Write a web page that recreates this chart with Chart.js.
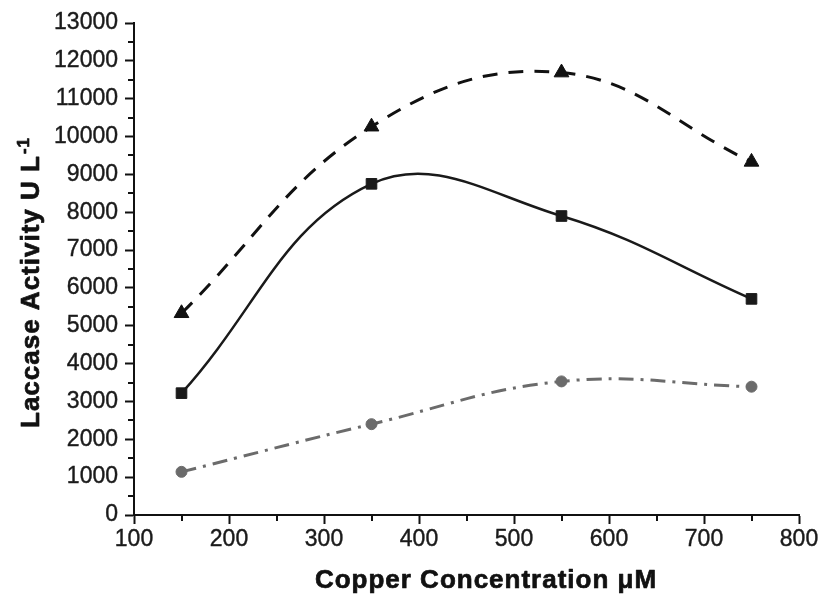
<!DOCTYPE html>
<html>
<head>
<meta charset="utf-8">
<script src="https://cdn.jsdelivr.net/npm/chart.js@4.4.1/dist/chart.umd.min.js"></script>
<style>
  html, body { margin: 0; padding: 0; background: #ffffff; }
  #wrap { width: 822px; height: 596px; position: relative; }
</style>
</head>
<body>
<div id="wrap"><canvas id="c" width="822" height="596"></canvas></div>
<script>
// ---- data ----
const copperConcentration = [150, 350, 550, 750];          // µM
const triangleSeries = [5330, 10260, 11690, 9330];         // dashed black, triangles
const squareSeries   = [3220, 8750, 7900, 5710];           // solid black, squares
const circleSeries   = [1140, 2400, 3530, 3390];           // grey dash-dot, circles

const xTickValues = [100, 200, 300, 400, 500, 600, 700, 800];
const xMinorTicks = [150, 250, 350, 450, 550, 650, 750];
const yTickValues = [0, 1000, 2000, 3000, 4000, 5000, 6000, 7000, 8000, 9000, 10000, 11000, 12000, 13000];
const yMinorTicks = [500, 1500, 2500, 3500, 4500, 5500, 6500, 7500, 8500, 9500, 10500, 11500, 12500];

const xTitle = "Copper Concentration \u03BCM";
const yTitleMain = "Laccase Activity U L";
const yTitleSup = "-1";

function pts(ys) { return copperConcentration.map((x, i) => ({ x: x, y: ys[i] })); }

const TITLE_FONT = 'bold 26px "Liberation Sans", Arial, sans-serif';
const SUP_FONT = 'bold 17px "Liberation Sans", Arial, sans-serif';

const titlesAndMinor = {
  id: 'titlesAndMinor',
  afterDraw(chart) {
    const ctx = chart.ctx;
    const xs = chart.scales.x, ys = chart.scales.y;
    const area = chart.chartArea;
    ctx.save();
    // minor ticks
    ctx.strokeStyle = '#111';
    ctx.lineWidth = 2;
    ctx.beginPath();
    xMinorTicks.forEach(v => {
      const px = Math.round(xs.getPixelForValue(v));
      ctx.moveTo(px, area.bottom);
      ctx.lineTo(px, area.bottom + 6);
    });
    yMinorTicks.forEach(v => {
      const py = Math.round(ys.getPixelForValue(v));
      ctx.moveTo(area.left, py);
      ctx.lineTo(area.left - 6, py);
    });
    ctx.stroke();

    // axis titles
    ctx.fillStyle = '#111';
    ctx.strokeStyle = '#111';
    ctx.lineWidth = 0.7;
    ctx.lineJoin = 'round';
    ctx.font = TITLE_FONT;
    ctx.letterSpacing = '1px';
    ctx.textAlign = 'center';
    ctx.textBaseline = 'alphabetic';
    ctx.fillText(xTitle, 486, 588);
    ctx.strokeText(xTitle, 486, 588);

    ctx.translate(39, 283);
    ctx.rotate(-Math.PI / 2);
    ctx.textAlign = 'left';
    const wMain = ctx.measureText(yTitleMain).width;
    ctx.font = SUP_FONT;
    ctx.letterSpacing = '1px';
    const wSup = ctx.measureText(yTitleSup).width;
    const start = -(wMain + wSup) / 2;
    ctx.font = TITLE_FONT;
    ctx.letterSpacing = '1px';
    ctx.fillText(yTitleMain, start, 0);
    ctx.strokeText(yTitleMain, start, 0);
    ctx.font = SUP_FONT;
    ctx.fillText(yTitleSup, start + wMain + 1, -10);
    ctx.strokeText(yTitleSup, start + wMain + 1, -10);
    ctx.restore();
  }
};

const tickFont = { family: '"Liberation Sans", Arial, sans-serif', size: 23 };

new Chart(document.getElementById('c'), {
  type: 'line',
  data: {
    datasets: [
      {
        data: pts(triangleSeries),
        borderColor: '#111',
        backgroundColor: '#111',
        borderWidth: 3,
        borderDash: [15, 11],
        pointStyle: 'triangle',
        pointRadius: 8.5,
        pointBorderWidth: 1,
        tension: 0.4
      },
      {
        data: pts(squareSeries),
        borderColor: '#1a1a1a',
        backgroundColor: '#1a1a1a',
        borderWidth: 2.5,
        pointStyle: 'rect',
        pointRadius: 7.5,
        pointBorderWidth: 1,
        tension: 0.4
      },
      {
        data: pts(circleSeries),
        borderColor: '#6b6b6b',
        backgroundColor: '#6b6b6b',
        borderWidth: 3,
        borderDash: [15, 7, 3, 7],
        pointStyle: 'circle',
        pointRadius: 5.5,
        pointBorderWidth: 1,
        tension: 0.4
      }
    ]
  },
  options: {
    responsive: false,
    animation: false,
    devicePixelRatio: 1,
    layout: { padding: { left: 0, right: 23, top: 23, bottom: 0 } },
    plugins: { legend: { display: false }, tooltip: { enabled: false } },
    scales: {
      x: {
        type: 'linear',
        min: 100, max: 800,
        afterBuildTicks: s => { s.ticks = xTickValues.map(v => ({ value: v })); },
        afterFit: s => { s.height = 81; },
        grid: { display: true, drawOnChartArea: false, drawTicks: true, tickLength: 9, tickWidth: 2, tickColor: '#111' },
        border: { display: true, color: '#111', width: 2 },
        ticks: { color: '#1a1a1a', font: tickFont, padding: 2, maxRotation: 0, autoSkip: false,
                 textStrokeColor: '#1a1a1a', textStrokeWidth: 0.4,
                 callback: v => String(v) }
      },
      y: {
        type: 'linear',
        min: 0, max: 13000,
        afterBuildTicks: s => { s.ticks = yTickValues.map(v => ({ value: v })); },
        afterFit: s => { s.width = 134; },
        grid: { display: true, drawOnChartArea: false, drawTicks: true, tickLength: 9, tickWidth: 2, tickColor: '#111' },
        border: { display: true, color: '#111', width: 2 },
        ticks: { color: '#1a1a1a', font: tickFont, padding: 7, autoSkip: false,
                 textStrokeColor: '#1a1a1a', textStrokeWidth: 0.4,
                 callback: v => String(v) }
      }
    }
  },
  plugins: [titlesAndMinor]
});
</script>
</body>
</html>
